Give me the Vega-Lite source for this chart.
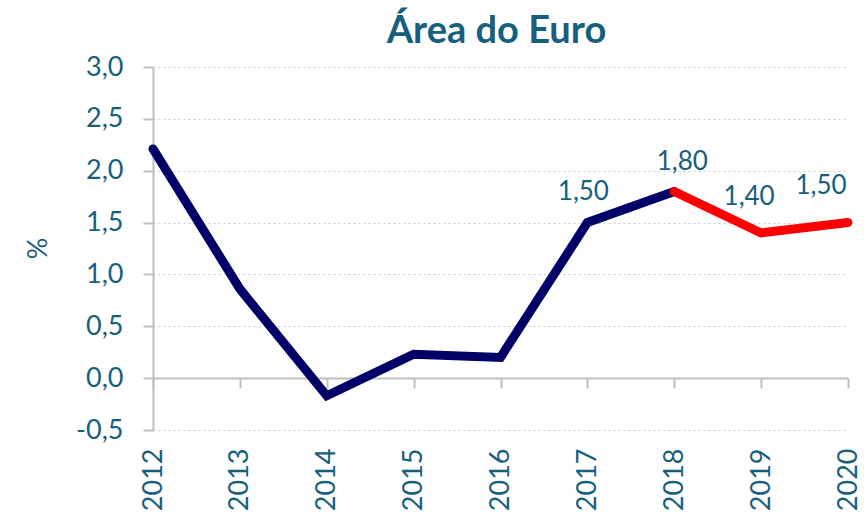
{
  "$schema": "https://vega.github.io/schema/vega-lite/v6.json",
  "autosize": "none",
  "padding": {"left": 153, "top": 67, "right": 16, "bottom": 89},
  "width": 695,
  "height": 363,
  "background": "white",
  "config": {
    "font": "Lato",
    "view": {"stroke": null},
    "text": {"fontSize": 26, "color": "#17607D", "font": "Lato", "baseline": "middle"},
    "locale": {"number": {"decimal": ",", "thousands": ".", "grouping": [3], "currency": ["€", ""], "minus": "-"}}
  },
  "title": {
    "text": "Área do Euro",
    "fontSize": 38,
    "fontWeight": "bold",
    "color": "#17607D",
    "anchor": "middle",
    "dx": -4,
    "offset": 2,
    "font": "Lato"
  },
  "data": {
    "values": [
      {"year": "2012", "value": 2.21, "series": "hist", "label": null},
      {"year": "2013", "value": 0.86, "series": "hist", "label": null},
      {"year": "2014", "value": -0.17, "series": "hist", "label": null},
      {"year": "2015", "value": 0.23, "series": "hist", "label": null},
      {"year": "2016", "value": 0.20, "series": "hist", "label": null},
      {"year": "2017", "value": 1.50, "series": "hist", "label": 1.50},
      {"year": "2018", "value": 1.80, "series": "hist", "label": 1.80},
      {"year": "2018", "value": 1.80, "series": "proj", "label": null},
      {"year": "2019", "value": 1.40, "series": "proj", "label": 1.40},
      {"year": "2020", "value": 1.50, "series": "proj", "label": 1.50}
    ]
  },
  "encoding": {
    "x": {"field": "year", "type": "ordinal", "scale": {"type": "point", "padding": 0}},
    "y": {"field": "value", "type": "quantitative", "scale": {"domain": [-0.5, 3.0], "nice": false, "zero": false}}
  },
  "layer": [
    {
      "mark": {"type": "line", "strokeWidth": 9, "strokeCap": "round", "strokeJoin": "miter"},
      "encoding": {
        "x": {
          "field": "year", "type": "ordinal", "scale": {"type": "point", "padding": 0},
          "axis": {
            "orient": "bottom",
            "title": null, "domain": false, "ticks": false, "grid": false,
            "labelAngle": 270, "labelAlign": "right", "labelBaseline": "middle",
            "labelFontSize": 27, "labelColor": "#17607D", "labelPadding": 18, "labelFont": "Lato"
          }
        },
        "y": {
          "field": "value", "type": "quantitative",
          "scale": {"domain": [-0.5, 3.0], "nice": false, "zero": false},
          "axis": {
            "values": [-0.5, 0, 0.5, 1, 1.5, 2, 2.5, 3],
            "format": ".1f",
            "title": "%", "titleFontSize": 27, "titleColor": "#17607D", "titleFontWeight": "normal",
            "titleAngle": 270, "titleX": -115, "titleY": 181, "titleAlign": "center", "titleBaseline": "middle",
            "labelFontSize": 27, "labelColor": "#17607D", "labelPadding": 20, "labelFont": "Lato",
            "domainColor": "#BFBFBF", "domainWidth": 2,
            "tickColor": "#BFBFBF", "tickWidth": 2, "tickSize": 10,
            "grid": true, "gridColor": "#C8C8C8", "gridDash": [2, 3], "gridWidth": 1.2
          }
        },
        "color": {
          "field": "series", "type": "nominal",
          "scale": {"domain": ["hist", "proj"], "range": ["#000066", "#FF0000"]},
          "legend": null
        }
      }
    },
    {
      "mark": {"type": "text", "dy": -31, "dx": -4},
      "transform": [{"filter": "datum.year == '2017' && datum.label != null"}],
      "encoding": {
        "x": {
          "field": "year", "type": "ordinal", "scale": {"type": "point", "padding": 0},
          "axis": {
            "orient": "bottom",
            "offset": -52, "labels": false, "title": null, "grid": false,
            "domainColor": "#BFBFBF", "domainWidth": 2,
            "tickColor": "#BFBFBF", "tickWidth": 2, "tickSize": 10
          }
        },
        "text": {"field": "label", "type": "quantitative", "format": ".2f"}
      }
    },
    {
      "mark": {"type": "text", "dy": -29, "dx": 8},
      "transform": [{"filter": "datum.year == '2018' && datum.label != null"}],
      "encoding": {
        "x": {"field": "year", "type": "ordinal", "scale": {"type": "point", "padding": 0}, "axis": null},
        "text": {"field": "label", "type": "quantitative", "format": ".2f"}
      }
    },
    {
      "mark": {"type": "text", "dy": -36, "dx": -12},
      "transform": [{"filter": "datum.year == '2019' && datum.label != null"}],
      "encoding": {
        "x": {"field": "year", "type": "ordinal", "scale": {"type": "point", "padding": 0}, "axis": null},
        "text": {"field": "label", "type": "quantitative", "format": ".2f"}
      }
    },
    {
      "mark": {"type": "text", "dy": -37, "dx": -27},
      "transform": [{"filter": "datum.year == '2020' && datum.label != null"}],
      "encoding": {
        "x": {"field": "year", "type": "ordinal", "scale": {"type": "point", "padding": 0}, "axis": null},
        "text": {"field": "label", "type": "quantitative", "format": ".2f"}
      }
    }
  ],
  "resolve": {"axis": {"x": "independent"}}
}
